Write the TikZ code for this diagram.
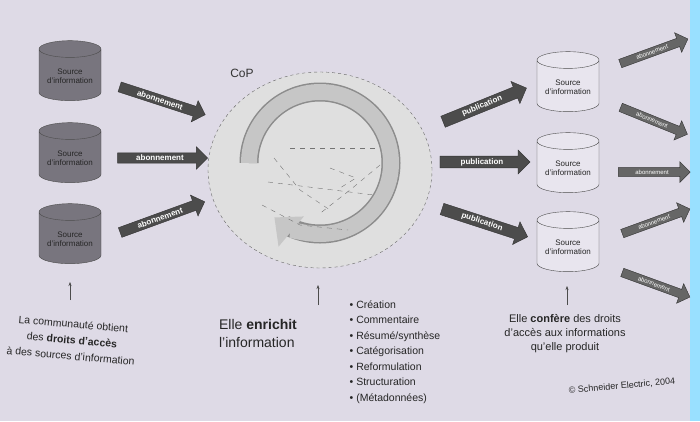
\documentclass[tikz,border=0pt]{standalone}
\usepackage{fontspec}
\setmainfont{Liberation Sans}
\usetikzlibrary{shapes.geometric,shapes.arrows,arrows.meta}
\definecolor{papier}{RGB}{222,218,230}
\definecolor{fonce}{RGB}{120,117,126}
\definecolor{clair}{RGB}{232,229,238}
\tikzset{
  srcfonce/.style={cylinder,shape border rotate=90,aspect=0.35,draw=black!70,fill=fonce,
    minimum width=62pt,minimum height=60pt,align=center,font=\fontsize{8}{9}\selectfont,text=black!85,inner sep=1pt},
  srcclair/.style={srcfonce,fill=clair},
  fleche/.style={single arrow,fill=black!70,draw=black!80,text=white,font=\fontsize{8}{9}\selectfont\bfseries,
    minimum height=90pt,single arrow head extend=6pt,inner sep=2pt,minimum width=22pt},
  petite/.style={fleche,minimum height=72pt,fill=black!60,font=\fontsize{6}{7}\selectfont,minimum width=18pt},
  legende/.style={align=center,font=\fontsize{11}{14}\selectfont,text=black!85}
}
\begin{document}
\begin{tikzpicture}[x=1pt,y=1pt,yscale=-1]
\fill[papier] (0,0) rectangle (700,421);
\fill[blue!30!cyan!40] (690,0) rectangle (700,421);
\useasboundingbox (0,0) rectangle (700,421);

% sources de gauche
\node[srcfonce] (srcA) at (70,76) {Source\\d'information};
\node[srcfonce] (srcB) at (70,158) {Source\\d'information};
\node[srcfonce] (srcC) at (70,239) {Source\\d'information};

% abonnements
\node[fleche,rotate=-18] (abA) at (160,100) {abonnement};
\node[fleche] (abB) at (160,158) {abonnement};
\node[fleche,rotate=20] (abC) at (160,218) {abonnement};

% la CoP
\node[ellipse,draw=black!60,dashed,fill=gray!25,minimum width=224pt,minimum height=196pt] (cop) at (320,170) {};
\node[font=\large,text=black!80] (copT) at (242,73) {CoP};
\draw[line width=19pt,black!45] (320,163)+(180:71) arc[start angle=180,end angle=480,radius=71];
\draw[line width=16pt,gray!45,-{Triangle[width=38pt,length=22pt]}] (320,163)+(180:71) arc[start angle=180,end angle=490,radius=71];
\draw[black!55,dash pattern=on 5pt off 5pt] (290,148) -- (376,148);
\draw[black!55,dash pattern=on 5pt off 5pt] (268,182) -- (374,195);
\draw[black!55,dash pattern=on 5pt off 5pt] (274,158) -- (300,190) -- (330,210);
\draw[black!55,dash pattern=on 5pt off 5pt] (330,168) -- (356,178) -- (340,188);
\draw[black!55,dash pattern=on 5pt off 5pt] (380,165) -- (350,190) -- (318,215);
\draw[black!55,dash pattern=on 5pt off 5pt] (262,205) -- (300,225) -- (348,230);

% publications
\node[fleche,rotate=22] (pubA) at (482,106) {publication};
\node[fleche] (pubB) at (482,162) {publication};
\node[fleche,rotate=-18] (pubC) at (482,222) {publication};

% sources de droite
\node[srcclair] (srcD) at (568,87) {Source\\d'information};
\node[srcclair] (srcE) at (568,168) {Source\\d'information};
\node[srcclair] (srcF) at (568,247) {Source\\d'information};

% diffusion
\node[petite,rotate=20] (difA) at (652,52) {abonnement};
\node[petite,rotate=-22] (difB) at (652,120) {abonnement};
\node[petite] (difC) at (652,172) {abonnement};
\node[petite,rotate=20] (difD) at (654,222) {abonnement};
\node[petite,rotate=-20] (difE) at (654,284) {abonnement};

% legendes
\node[legende,rotate=-5,font=\fontsize{10.5}{16}\selectfont] (txtA) at (72,340) {La communauté obtient\\des \textbf{droits d'accès}\\à des sources d'information};
\node[legende,font=\fontsize{14}{18}\selectfont,align=left] (txtB) at (258,333) {Elle \textbf{enrichit}\\l'information};
\node[legende,align=left,font=\fontsize{10.5}{15.5}\selectfont] (txtC) at (395,352) {• Création\\• Commentaire\\• Résumé/synthèse\\• Catégorisation\\• Reformulation\\• Structuration\\• (Métadonnées)};
\node[legende] (txtD) at (565,334) {Elle \textbf{confère} des droits\\d'accès aux informations\\qu'elle produit};
\node[legende,font=\fontsize{9}{11}\selectfont,rotate=5] (txtE) at (622,386) {© Schneider Electric, 2004};
\coordinate (flA) at (70,300);
\coordinate (flB) at (318,305);
\coordinate (flC) at (567,305);
\draw[-{Stealth[length=4pt]},black!70] (flA) -- (70,282);
\draw[-{Stealth[length=4pt]},black!70] (flB) -- (318,285);
\draw[-{Stealth[length=4pt]},black!70] (flC) -- (567,286);
\end{tikzpicture}
\end{document}
